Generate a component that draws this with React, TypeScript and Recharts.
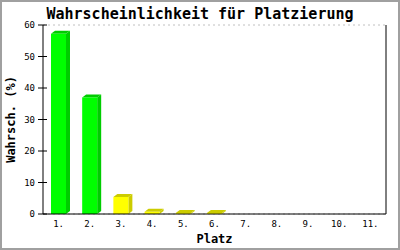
import { BarChart, Bar, XAxis, YAxis, CartesianGrid, Cell, Label } from "recharts";

const places = ["1.", "2.", "3.", "4.", "5.", "6.", "7.", "8.", "9.", "10.", "11."];
const probability = [57.2, 37.0, 5.4, 0.7, 0.3, 0.3, 0, 0, 0, 0, 0];
const yTicks = [0, 10, 20, 30, 40, 50, 60];

const data = places.map((place, i) => ({ place, value: probability[i] }));

const FONT = "'DejaVu Sans Mono', 'Liberation Mono', monospace";

// bars for the first two places are green, the rest yellow
const colorFor = (i: number) =>
  i < 2 ? { front: "#00ff00", side: "#00cc00" } : { front: "#ffff00", side: "#cccc00" };

const Bar3D = (props: any) => {
  const { x, y, width, height, fill, stroke } = props;
  if (!height || height <= 0) return null;
  const dx = 4;
  const dy = 3;
  return (
    <g>
      <polygon
        points={`${x},${y} ${x + dx},${y - dy} ${x + width + dx},${y - dy} ${x + width},${y}`}
        fill={stroke}
      />
      <polygon
        points={`${x + width},${y} ${x + width + dx},${y - dy} ${x + width + dx},${y + height - dy} ${x + width},${y + height}`}
        fill={stroke}
      />
      <rect x={x} y={y} width={width} height={height} fill={fill} />
    </g>
  );
};

const YTick = (props: any) => {
  const { x, y, payload } = props;
  return (
    <g>
      <line x1={x + 3} x2={x + 12} y1={y} y2={y} stroke="#000" />
      <text x={x} y={y} dy={3} textAnchor="end" fontSize={9} fontFamily={FONT} fill="#000">
        {payload.value}
      </text>
    </g>
  );
};

export default function App() {
  return (
    <div
      style={{
        position: "absolute",
        left: 0,
        top: 0,
        width: 400,
        height: 250,
        boxSizing: "border-box",
        border: "2px solid #a0a0a0",
        background: "#fff",
      }}
    >
      <div
        style={{
          position: "absolute",
          left: -2,
          top: 3,
          width: 400,
          textAlign: "center",
          fontFamily: FONT,
          fontWeight: "bold",
          fontSize: 15,
          color: "#000",
        }}
      >
        Wahrscheinlichkeit für Platzierung
      </div>
      <div style={{ position: "absolute", left: -2, top: -2 }}>
        <BarChart
          width={400}
          height={250}
          data={data}
          margin={{ top: 25, right: 0, bottom: 0, left: 0 }}
        >
          <CartesianGrid
            horizontal
            vertical={false}
            stroke="#c0c0c0"
            strokeDasharray="2 3"
          />
          <XAxis
            dataKey="place"
            height={36}
            axisLine={{ stroke: "#000" }}
            tickLine={false}
            tick={{ fontSize: 9, fontFamily: FONT, fill: "#000" }}
            tickMargin={1}
          >
            <Label
              value="Platz"
              position="insideBottom"
              offset={7}
              style={{ fontFamily: FONT, fontWeight: "bold", fontSize: 12, fill: "#000" }}
            />
          </XAxis>
          <YAxis
            yAxisId="left"
            width={43}
            domain={[0, 60]}
            ticks={yTicks}
            interval={0}
            axisLine={{ stroke: "#000" }}
            tickLine={false}
            tickSize={5}
            tickMargin={3}
            tick={<YTick />}
          >
            <Label
              value="Wahrsch. (%)"
              angle={-90}
              position="insideLeft"
              offset={11}
              style={{
                fontFamily: FONT,
                fontWeight: "bold",
                fontSize: 12,
                fill: "#000",
                textAnchor: "middle",
              }}
            />
          </YAxis>
          <YAxis
            yAxisId="right"
            orientation="right"
            width={14}
            domain={[0, 60]}
            ticks={yTicks}
            tick={false}
            tickLine={false}
            axisLine={{ stroke: "#000" }}
          />
          <Bar
            yAxisId="left"
            dataKey="value"
            barSize={15}
            isAnimationActive={false}
            shape={<Bar3D />}
          >
            {data.map((d, i) => (
              <Cell key={d.place} fill={colorFor(i).front} stroke={colorFor(i).side} />
            ))}
          </Bar>
        </BarChart>
      </div>
    </div>
  );
}
